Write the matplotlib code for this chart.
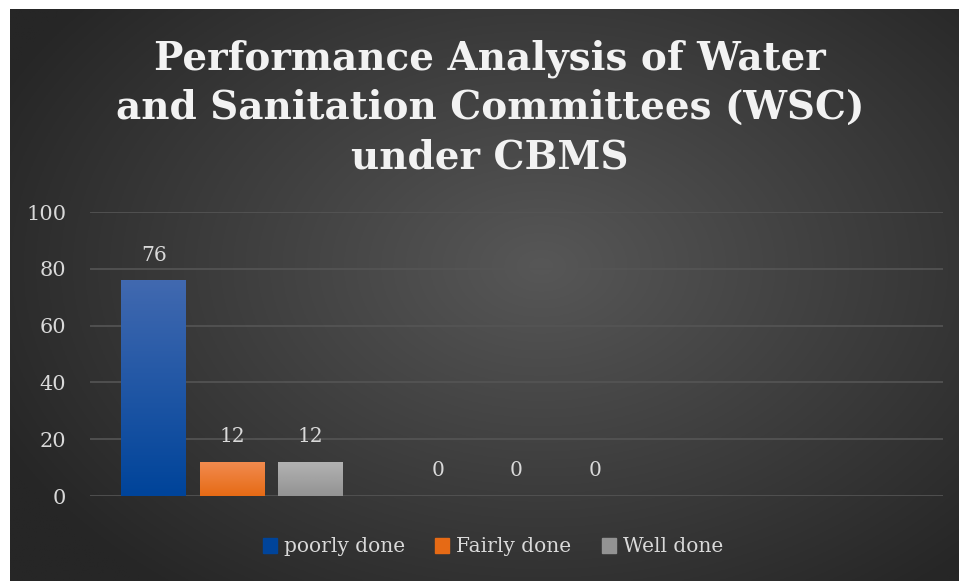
import numpy as np
import matplotlib.pyplot as plt
from matplotlib.colors import LinearSegmentedColormap

# chart data
categories = ["", "", ""]
series_names = ["poorly done", "Fairly done", "Well done"]
poorly_done = [76, 0, np.nan]
fairly_done = [12, 0, np.nan]
well_done = [12, 0, np.nan]
yticks = [0, 20, 40, 60, 80, 100]
title = "Performance Analysis of Water\nand Sanitation Committees (WSC)\nunder CBMS"

# top / bottom colours of the bar gradients
bar_colors = [("#4169b0", "#00449a"), ("#f28c50", "#e66a15"), ("#b3b3b3", "#939393")]
text_col = "#d9d9d9"

fig = plt.figure(figsize=(9.59, 5.81), dpi=100)
fig.patch.set_facecolor("white")

# dark radial background
bg = fig.add_axes([10 / 959, 0, 949 / 959, 572 / 581])
bg.set_axis_off()
yy, xx = np.mgrid[0:1:300j, 0:1:500j]
r = np.sqrt(((xx - 0.56) / 0.75) ** 2 + ((yy - 0.55) / 0.85) ** 2)
r = np.clip(r / 0.85, 0, 1)
light, dark = np.array([0x57, 0x57, 0x57]) / 255, np.array([0x26, 0x26, 0x26]) / 255
img = light[None, None, :] * (1 - r[..., None]) + dark[None, None, :] * r[..., None]
bg.imshow(img, aspect="auto", extent=(0, 1, 0, 1), origin="lower")
bg.set_xlim(0, 1)
bg.set_ylim(0, 1)

fig.text(0.511, 1 - 108 / 581, title, ha="center", va="center", color="#f2f2f2",
         fontsize=28, fontweight="bold", family="DejaVu Serif",
         linespacing=1.37)

ax = fig.add_axes([90 / 959, 1 - 496 / 581, 853 / 959, 284 / 581])
ax.patch.set_alpha(0)

x = np.arange(len(categories))
width = 0.227
step = 0.276
values = [poorly_done, fairly_done, well_done]
handles = []
for i, (vals, name, (c_top, c_bot)) in enumerate(zip(values, series_names, bar_colors)):
    pos = x + (i - 1) * step
    bars = ax.bar(pos, np.nan_to_num(vals), width, color=c_bot, label=name, zorder=3)
    cmap = LinearSegmentedColormap.from_list(name, [c_bot, c_top])
    grad = np.linspace(0, 1, 100).reshape(-1, 1)
    for b, v in zip(bars, vals):
        if np.isnan(v):
            continue
        if v > 0:
            b.set_facecolor("none")
            b.set_edgecolor("none")
            im = ax.imshow(grad, cmap=cmap, aspect="auto", origin="lower", zorder=3,
                           extent=(b.get_x(), b.get_x() + b.get_width(), 0, v))
            im.set_clip_path(b)
        ax.text(b.get_x() + b.get_width() / 2, v + 5.5, f"{v:.0f}", ha="center",
                va="bottom", color=text_col, fontsize=14.5, family="DejaVu Serif")
    handles.append(plt.Rectangle((0, 0), 1, 1, color=c_bot))

ax.set_xlim(-0.5, 2.5)
ax.set_ylim(0, 100)
ax.set_yticks(yticks)
ax.set_xticks(x)
ax.set_xticklabels(categories)
ax.yaxis.grid(True, color="#555555", linewidth=1.2, zorder=0)
ax.set_axisbelow(True)
for s in ax.spines.values():
    s.set_visible(False)
ax.tick_params(length=0, colors=text_col, labelsize=15, pad=17)
for lab in ax.get_yticklabels():
    lab.set_family("DejaVu Serif")

leg = fig.legend(handles, series_names, loc="center", bbox_to_anchor=(0.514, 1 - 547 / 581),
                 ncol=3, frameon=False, handlelength=0.7, handleheight=0.7,
                 handletextpad=0.35, columnspacing=1.5,
                 prop={"family": "DejaVu Serif", "size": 14.5})
for t in leg.get_texts():
    t.set_color(text_col)

fig.savefig("out.png", dpi=100)
